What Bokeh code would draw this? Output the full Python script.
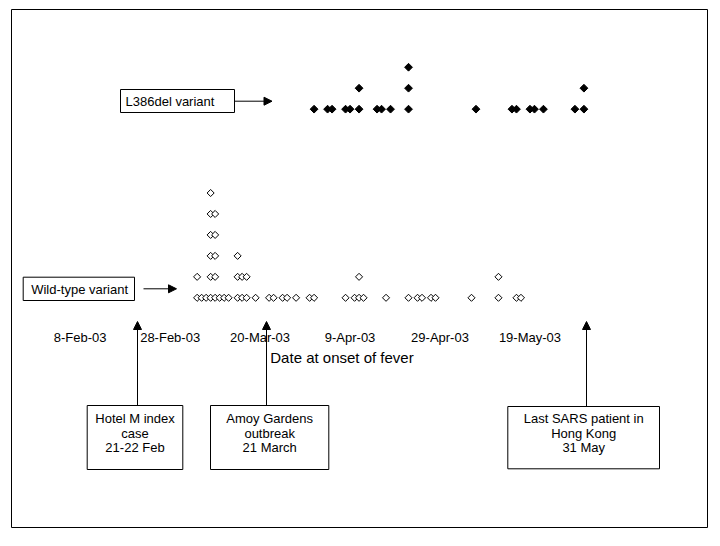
import math
import datetime as dt
from bokeh.plotting import figure
from bokeh.models import Range1d, LinearAxis, FixedTicker, Arrow, NormalHead
from bokeh.embed import file_html
from bokeh.resources import INLINE
from bokeh.core.properties import value

# ---------------- data ----------------
tick_dates = ["2003-02-08", "2003-02-28", "2003-03-20", "2003-04-09", "2003-04-29", "2003-05-19"]
tick_labels = ["8-Feb-03", "28-Feb-03", "20-Mar-03", "9-Apr-03", "29-Apr-03", "19-May-03"]

wild_dates = ["2003-03-06", "2003-03-07", "2003-03-08", "2003-03-09", "2003-03-10", "2003-03-11",
              "2003-03-12", "2003-03-13", "2003-03-15", "2003-03-16", "2003-03-17", "2003-03-19",
              "2003-03-22", "2003-03-23", "2003-03-25", "2003-03-26", "2003-03-28", "2003-03-31",
              "2003-04-01", "2003-04-08", "2003-04-10", "2003-04-11", "2003-04-12", "2003-04-17",
              "2003-04-22", "2003-04-24", "2003-04-25", "2003-04-27", "2003-04-28", "2003-05-06",
              "2003-05-12", "2003-05-16", "2003-05-17"]
wild_counts = [2, 1, 1, 6, 5, 1,
               1, 1, 3, 2, 2, 1,
               1, 1, 1, 1, 1, 1,
               1, 1, 1, 2, 1, 1,
               1, 1, 1, 1, 1, 1,
               2, 1, 1]

l386_dates = ["2003-04-01", "2003-04-04", "2003-04-05", "2003-04-08", "2003-04-09", "2003-04-11",
              "2003-04-15", "2003-04-16", "2003-04-18", "2003-04-22", "2003-05-07", "2003-05-15",
              "2003-05-16", "2003-05-19", "2003-05-20", "2003-05-22", "2003-05-29", "2003-05-31"]
l386_counts = [1, 1, 1, 1, 1, 2,
               1, 1, 1, 3, 1, 1,
               1, 1, 1, 1, 1, 2]

series_names = ["L386del variant", "Wild-type variant"]
event_notes = [["Hotel M index", "case", "21-22 Feb"],
               ["Amoy Gardens", "outbreak", "21 March"],
               ["Last SARS patient in", "Hong Kong", "31 May"]]
axis_title = "Date at onset of fever"

# ---------------- layout (canvas pixels) ----------------
FONT = "Liberation Sans"
FL, FR, FT, FB = 11, 707, 9, 527
X_REF_PX = 79.7
PX_PER_DAY = 4.4976
Y1_PX = 297.3
PX_PER_ROW = 20.96
DAY_MS = 86400000.0
EPOCH = dt.datetime(1970, 1, 1)


def ms(s):
    return (dt.datetime.strptime(s, "%Y-%m-%d") - EPOCH).total_seconds() * 1000.0


REF = ms(tick_dates[0])


def px2x(px):
    return REF + (px - X_REF_PX) / PX_PER_DAY * DAY_MS


def px2y(py):
    return 1 + (Y1_PX - py) / PX_PER_ROW


p = figure(width=FR + 2, height=FB + 2,
           x_range=Range1d(px2x(FL), px2x(FR)),
           y_range=Range1d(px2y(FB), px2y(FT)),
           x_axis_type=None, y_axis_type=None,
           output_backend="svg", toolbar_location=None,
           min_border_left=FL, min_border_right=2, min_border_top=FT, min_border_bottom=2)
p.outline_line_color = "black"
p.outline_line_width = 1
p.background_fill_color = "white"
p.border_fill_color = "white"

# x axis placed inside the frame
tick_ms = [ms(d) for d in tick_dates]
xaxis = LinearAxis(fixed_location=px2y(320), ticker=FixedTicker(ticks=tick_ms))
xaxis.major_label_overrides = {t: lab for t, lab in zip(tick_ms, tick_labels)}
xaxis.axis_line_color = None
xaxis.major_tick_line_color = None
xaxis.minor_tick_line_color = None
xaxis.major_tick_out = 0
xaxis.major_tick_in = 0
xaxis.major_label_standoff = 9
xaxis.major_label_text_font = FONT
xaxis.major_label_text_font_size = "13px"
xaxis.major_label_text_color = "black"
p.add_layout(xaxis, "below")

p.text(x=[px2x(341.5)], y=[px2y(356.5)], text=[axis_title], text_font=value(FONT),
       text_font_size="15px", text_align="center", text_baseline="middle", text_color="black")


def stack(dates, counts, base):
    xs, ys = [], []
    for d, c in zip(dates, counts):
        for k in range(c):
            xs.append(ms(d))
            ys.append(base + k)
    return xs, ys


wx, wy = stack(wild_dates, wild_counts, 1)
lx, ly = stack(l386_dates, l386_counts, 10)
p.scatter(wx, wy, marker="square", size=5, angle=math.pi / 4,
          fill_color="white", line_color="black", line_width=1)
p.scatter(lx, ly, marker="square", size=5.5, angle=math.pi / 4,
          fill_color="black", line_color="black", line_width=1)

# boxes (left, right, top, bottom) in canvas pixels
boxes = [(120, 234, 89, 112), (22.7, 134, 276.7, 300),
         (86.7, 182.3, 405, 469), (210, 328.3, 405, 469), (507.3, 659, 406, 468.3)]
p.quad(left=[px2x(b[0]) for b in boxes], right=[px2x(b[1]) for b in boxes],
       top=[px2y(b[2]) for b in boxes], bottom=[px2y(b[3]) for b in boxes],
       fill_color=None, line_color="black", line_width=1)

# series labels
p.text(x=[px2x(125), px2x(30.7)], y=[px2y(101), px2y(288.5)], text=series_names,
       text_font=value(FONT), text_font_size="13px", text_align="left",
       text_baseline="middle", text_color="black")

# event notes
centers = [134.5, 269.2, 583.2]
line_ys = [418, 432.5, 447]
tx, ty, tt = [], [], []
for cx, lines in zip(centers, event_notes):
    for ly_, line in zip(line_ys, lines):
        tx.append(px2x(cx))
        ty.append(px2y(ly_))
        tt.append(line)
p.text(x=tx, y=ty, text=tt, text_font=value(FONT), text_font_size="13px",
       text_align="center", text_baseline="middle", text_color="black")

# arrows
arrows = [(234, 100.7, 271.5, 100.7), (143, 288.3, 176, 288.3),
          (137, 405, 137, 321), (266, 405, 266, 321), (586, 406, 586, 321)]
for x0, y0, x1, y1 in arrows:
    p.add_layout(Arrow(x_start=px2x(x0), y_start=px2y(y0), x_end=px2x(x1), y_end=px2y(y1),
                       line_color="black", line_width=1,
                       end=NormalHead(size=8, fill_color="black", line_color="black", line_width=1)))

open("out.html", "w").write(file_html(p, INLINE))
